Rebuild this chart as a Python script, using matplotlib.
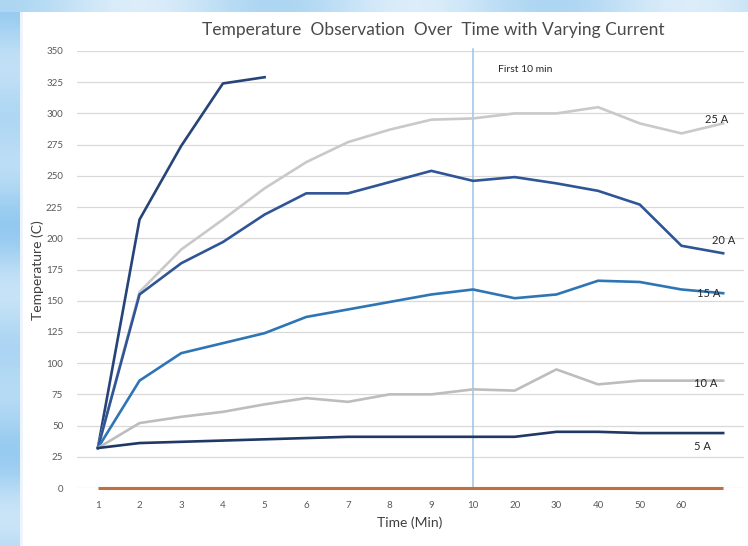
import numpy as np
import matplotlib
matplotlib.use("Agg")
import matplotlib.pyplot as plt

# Category axis (minutes); the last sample has no label
times = ["1", "2", "3", "4", "5", "6", "7", "8", "9", "10", "20", "30", "40", "50", "60", ""]

# Temperature readings (C) for each current
temp_30a = [32, 215, 274, 324, 329]
temp_25a = [32, 157, 191, 215, 240, 261, 277, 287, 295, 296, 300, 300, 305, 292, 284, 292]
temp_20a = [32, 155, 180, 197, 219, 236, 236, 245, 254, 246, 249, 244, 238, 227, 194, 188]
temp_15a = [32, 86, 108, 116, 124, 137, 143, 149, 155, 159, 152, 155, 166, 165, 159, 156]
temp_10a = [32, 52, 57, 61, 67, 72, 69, 75, 75, 79, 78, 95, 83, 86, 86, 86]
temp_5a = [32, 36, 37, 38, 39, 40, 41, 41, 41, 41, 41, 45, 45, 44, 44, 44]
baseline = [0] * len(times)

yticks = list(range(0, 351, 25))
marker_time = "10"

plt.rcParams["font.family"] = ["Lato", "DejaVu Sans"]

W, H, DPI = 748, 546, 100
fig = plt.figure(figsize=(W / DPI, H / DPI), dpi=DPI)

# Slide backdrop: blue band on the left and along the top
bg = fig.add_axes([0, 0, 1, 1], zorder=-10)
img = np.ones((H, W, 3))
rows = np.linspace(0, 1, H)
shade = 0.5 + 0.5 * np.cos(rows * 23.0) * np.cos(rows * 7.0)
light = np.array([0.80, 0.90, 0.97])
deep = np.array([0.58, 0.79, 0.94])
left_band = light[None, :] * (1 - shade[:, None]) + deep[None, :] * shade[:, None]
img[:, :20, :] = left_band[:, None, :]
img[:, 20:23, :] = np.array([0.93, 0.96, 0.99])
cols = np.linspace(0, 1, W)
tshade = 0.5 + 0.5 * np.cos(cols * 17.0)
top_light = np.array([0.86, 0.93, 0.98])
top_deep = np.array([0.68, 0.84, 0.95])
top_band = top_light[None, :] * (1 - tshade[:, None]) + top_deep[None, :] * tshade[:, None]
img[:12, :, :] = top_band[None, :, :]
bg.imshow(img, aspect="auto", interpolation="bilinear")
bg.axis("off")

ax = fig.add_axes([77 / W, 1 - 488 / H, (744 - 77) / W, (488 - 51) / H])
ax.set_facecolor("none")

x_all = np.arange(len(times))

ax.plot(x_all[:len(temp_30a)], temp_30a, color="#264478", lw=1.9, zorder=3)
ax.plot(x_all, temp_25a, color="#c9c9c9", lw=1.9, zorder=3)
ax.plot(x_all, temp_20a, color="#2f5597", lw=1.9, zorder=3)
ax.plot(x_all, temp_15a, color="#2e75b6", lw=1.9, zorder=3)
ax.plot(x_all, temp_10a, color="#bdbdbd", lw=1.9, zorder=3)
ax.plot(x_all, temp_5a, color="#1f3864", lw=1.9, zorder=3)
ax.plot(x_all, baseline, color="#c0703f", lw=2.2, zorder=3,
        solid_capstyle="butt", clip_on=False)

# Divider after the first ten minutes
xm = times.index(marker_time)
ax.plot([xm, xm], [0, 352], color="#9dc3e6", lw=1.1, zorder=2, clip_on=False)
ax.text(xm + 0.6, 335, "First 10 min", fontsize=7.5, color="#262626", va="center", ha="left")

# Series labels at the right end
lab_kw = dict(fontsize=8, color="#262626", va="center", ha="center", zorder=4)
ax.text(14.84, 295.5, "25 A", **lab_kw)
ax.text(15.0, 198.6, "20 A", **lab_kw)
ax.text(14.65, 156, "15 A", **lab_kw)
ax.text(14.58, 84, "10 A", **lab_kw)
ax.text(14.5, 33, "5 A", **lab_kw)

ax.set_xlim(-0.5, len(times) - 0.5)
ax.set_ylim(0, 350)
ax.set_xticks(x_all)
ax.set_xticklabels(times)
ax.set_yticks(yticks)
ax.tick_params(axis="both", length=0, labelsize=7, labelcolor="#595959")
ax.tick_params(axis="y", pad=10)
ax.tick_params(axis="x", pad=9)
ax.grid(axis="y", color="#d9d9d9", lw=0.9, zorder=0)
ax.set_axisbelow(True)
for s in ax.spines.values():
    s.set_visible(False)

fig.text(433 / W, 1 - 30 / H, "Temperature  Observation  Over  Time with Varying Current",
         fontsize=12.5, color="#4a4a4a", ha="center", va="center")
fig.text(38 / W, 1 - 270 / H, "Temperature (C)", fontsize=10, color="#404040",
         rotation=90, ha="center", va="center")
fig.text(410 / W, 1 - 523 / H, "Time (Min)", fontsize=10, color="#404040",
         ha="center", va="center")

fig.savefig("out.png", dpi=DPI)
